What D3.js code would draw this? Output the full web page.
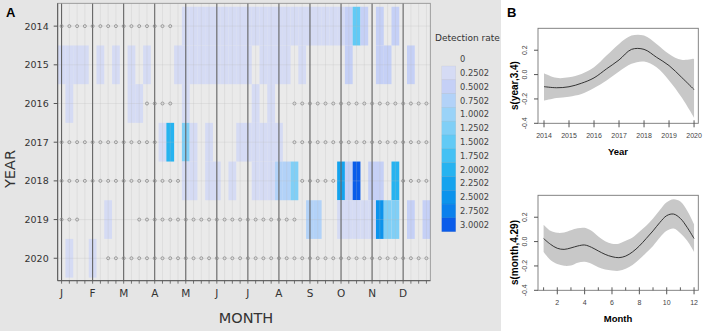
<!DOCTYPE html>
<html>
<head>
<meta charset="utf-8">
<script src="https://cdn.jsdelivr.net/npm/d3@7"></script>
<style>
    body { margin: 0; background: #fff; }
</style>
</head>
<body>
<div id="chart"></div>
<script>
// ---- data ----
const _ = null;   // week not sampled

const years = [2014, 2015, 2016, 2017, 2018, 2019, 2020];
const monthLabels = ["J", "F", "M", "A", "M", "J", "J", "A", "S", "O", "N", "D"];
const legendLabels = ["0.2502", "0.5002", "0.7502", "1.0002", "1.2502", "1.5002",
    "1.7502", "2.0002", "2.2502", "2.5002", "2.7502", "3.0002"];
const legendColors = ["#d5dbf4", "#c5d0f6", "#b2d2f8", "#9ad3f8", "#80cff6", "#62caf5",
    "#44c1f4", "#26b3f0", "#14a3ee", "#0c93ec", "#0a80ec", "#0a5cea"];

// detection rate per week (48 weeks, 4 per month); 0 = sampled, nothing detected
const row2014 = [0,0,0,0,0,0,0,0,0,0,0,0,0,0,0,_,
    .1,.1,.1,.1,.1,.1,.1,.1,.1,.1,.1,.1,.1,.1,.1,.1,.1,.1,.1,.1,.1,
    .35,1.3,.35,_,.35,_,.3,_,_,_,_];
const row2015 = [.1,.1,.1,.1,_,.1,_,.1,_,.1,_,.1,_,_,_,
    .1,.1,.1,.1,.1,.1,.1,.1,.1,.1,_,.1,.1,.1,.1,_,.1,_,_,_,_,_,
    .35,_,_,_,.35,.35,_,_,.35,_,_];
const row2016 = [_,.1,_,_,_,_,_,_,_,.1,.1,0,0,0,0,_,.1,_,_,_,_,_,_,_,_,.1,_,.1,_,_,
    0,0,0,0,0,0,0,0,0,0,0,0,0,0,0,0,0,0];
const row2017 = [0,0,0,0,0,0,0,0,0,0,0,0,0,.1,1.85,_,1.2,.1,_,.1,_,_,_,
    .1,.1,.1,.1,.1,.1,_,
    0,0,0,0,0,0,0,0,0,0,0,0,0,0,0,0,0,0];
const row2018 = [0,0,0,0,0,0,0,0,0,0,0,0,0,0,0,0,
    .1,.1,_,.1,.1,_,.1,_,_,.1,.1,.1,.6,.6,1.15,0,0,0,0,0,
    2.1,.4,2.9,_,.35,.35,_,1.9,0,0,0,0];
const row2019 = [0,0,0,_,_,_,.1,_,_,_,
    0,0,0,0,0,0,0,0,0,0,0,0,0,0,0,0,0,0,0,0,0,
    _,.55,.55,_,_,.15,.15,.15,.15,.15,2.3,1.1,1.05,_,.35,_,.35];
const row2020 = [_,.1,_,_,.1,_,
    0,0,0,0,0,0,0,0,0,0,0,0,0,0,0,0,0,0,0,0,0,0,0,0,0,0,0,0,0,0,0,0,0,0,0,0,0,0,0,0,0,0];
const weekRows = [row2014, row2015, row2016, row2017, row2018, row2019, row2020];

// GAM smooths (panel B)
const smoothYears = [2014, 2014.5, 2015, 2015.5, 2016, 2016.5, 2017, 2017.5, 2018, 2018.5, 2019, 2019.5, 2020];
const yearFit   = [-0.099, -0.108, -0.100, -0.071, -0.027, 0.047, 0.120, 0.207, 0.207, 0.142, 0.074, -0.022, -0.123];
const yearUpper = [0.011, -0.027, -0.022, 0.005, 0.060, 0.156, 0.252, 0.320, 0.320, 0.252, 0.170, 0.121, 0.129];
const yearLower = [-0.214, -0.192, -0.181, -0.159, -0.110, -0.049, 0.025, 0.088, 0.107, 0.060, -0.049, -0.187, -0.354];

const smoothMonths = [1, 1.5, 2, 2.5, 3, 3.5, 4, 4.5, 5, 5.5, 6, 6.5, 7, 7.5, 8, 8.5, 9, 9.5, 10, 10.5, 11, 11.5, 12];
const monthFit   = [0.025, -0.022, -0.055, -0.064, -0.052, -0.036, -0.028, -0.047, -0.077, -0.105, -0.124, -0.132,
    -0.119, -0.085, -0.036, 0.025, 0.088, 0.157, 0.213, 0.226, 0.190, 0.116, 0.025];
const monthUpper = [0.138, 0.088, 0.072, 0.075, 0.094, 0.110, 0.113, 0.088, 0.041, 0.003, -0.017, -0.017,
    0.006, 0.033, 0.080, 0.130, 0.190, 0.259, 0.323, 0.348, 0.329, 0.254, 0.143];
const monthLower = [-0.085, -0.152, -0.185, -0.199, -0.196, -0.174, -0.166, -0.182, -0.210, -0.229, -0.237, -0.240,
    -0.224, -0.193, -0.146, -0.091, -0.036, 0.033, 0.088, 0.107, 0.069, 0.006, -0.085];

// ---- drawing ----
let svg = d3.select("#chart").append("svg")
    .attr("width", 707)
    .attr("height", 333);

svg.append("rect").attr("width", 707).attr("height", 333).attr("fill", "#fff");
svg.append("rect").attr("width", 501).attr("height", 331).attr("fill", "#e5e5e5");

const fontA = "'DejaVu Sans', Verdana, sans-serif";
const fontB = "'Liberation Sans', Arial, sans-serif";

// panel A: heatmap
let weeks = d3.range(1, 49);
let x = d3.scaleLinear().domain([0.5, 48.5]).range([57.7, 430.3]);
let y = d3.scaleLinear().domain([2013.41, 2020.58]).range([3.3, 280.7]);
let color = d3.scaleThreshold()
    .domain(legendLabels.slice(0, 11).map(Number))
    .range(legendColors);

let plotA = svg.append("g");
plotA.append("rect")
    .attr("x", x(0.5)).attr("y", y(2013.41))
    .attr("width", x(48.5) - x(0.5)).attr("height", y(2020.58) - y(2013.41))
    .attr("fill", "#eaeaea");

let cells = [];
years.forEach((yr, i) => {
    weekRows[i].forEach((v, j) => {
        if (v !== null) cells.push({year: yr, week: j + 1, value: v});
    });
});

let cw = x(1.5) - x(0.5);
let ch = y(2014.5) - y(2013.5);

plotA.selectAll(".cell")
    .data(cells.filter(d => d.value > 0))
    .enter().append("rect")
    .attr("class", "cell")
    .attr("x", d => x(d.week - 0.5))
    .attr("y", d => y(d.year - 0.5))
    .attr("width", cw)
    .attr("height", ch)
    .attr("fill", d => color(d.value));

// faint week / year grid
plotA.selectAll(".vgrid")
    .data(weeks)
    .enter().append("line")
    .attr("x1", d => x(d)).attr("x2", d => x(d))
    .attr("y1", y(2013.41)).attr("y2", y(2020.58))
    .attr("stroke", "#b8b8b8").attr("stroke-opacity", 0.35).attr("stroke-width", 0.7);
plotA.selectAll(".hgrid")
    .data(years)
    .enter().append("line")
    .attr("x1", x(0.5)).attr("x2", x(48.5))
    .attr("y1", d => y(d)).attr("y2", d => y(d))
    .attr("stroke", "#b8b8b8").attr("stroke-opacity", 0.35).attr("stroke-width", 0.7);

// month separators
let monthWeeks = monthLabels.map((m, i) => 1 + i * 4);
plotA.selectAll(".mline")
    .data(monthWeeks)
    .enter().append("line")
    .attr("x1", d => x(d)).attr("x2", d => x(d))
    .attr("y1", y(2013.41)).attr("y2", y(2020.58))
    .attr("stroke", "#5a5a5a").attr("stroke-width", 1);

// sampled but no detection
plotA.selectAll(".dot")
    .data(cells.filter(d => d.value === 0))
    .enter().append("circle")
    .attr("cx", d => x(d.week))
    .attr("cy", d => y(d.year))
    .attr("r", 1.5)
    .attr("fill", "none")
    .attr("stroke", "#8a8a8a")
    .attr("stroke-width", 0.8);

// frame
plotA.append("rect")
    .attr("x", x(0.5)).attr("y", y(2013.41))
    .attr("width", x(48.5) - x(0.5)).attr("height", y(2020.58) - y(2013.41))
    .attr("fill", "none").attr("stroke", "#8c8c8c").attr("stroke-width", 0.8);
plotA.append("line")
    .attr("x1", x(0.5)).attr("x2", x(0.5)).attr("y1", y(2013.41)).attr("y2", y(2020.58))
    .attr("stroke", "#555");
plotA.append("line")
    .attr("x1", x(0.5)).attr("x2", x(48.5)).attr("y1", y(2020.58)).attr("y2", y(2020.58))
    .attr("stroke", "#555");

// y axis ticks and labels
plotA.selectAll(".ytick")
    .data(years)
    .enter().append("line")
    .attr("x1", x(0.5) - 4).attr("x2", x(0.5))
    .attr("y1", d => y(d)).attr("y2", d => y(d))
    .attr("stroke", "#555");
plotA.selectAll(".ylab")
    .data(years)
    .enter().append("text")
    .attr("x", x(0.5) - 9)
    .attr("y", d => y(d))
    .attr("dy", "0.36em")
    .attr("text-anchor", "end")
    .attr("font-family", fontA).attr("font-size", 9.5).attr("fill", "#333")
    .text(d => d);

// x axis: a tick per week, label per month
plotA.selectAll(".xtick")
    .data(weeks)
    .enter().append("line")
    .attr("x1", d => x(d)).attr("x2", d => x(d))
    .attr("y1", y(2020.58)).attr("y2", y(2020.58) + 3)
    .attr("stroke", "#555").attr("stroke-width", 0.8);
plotA.selectAll(".xlab")
    .data(monthLabels)
    .enter().append("text")
    .attr("x", (d, i) => x(monthWeeks[i]))
    .attr("y", 296.5)
    .attr("text-anchor", "middle")
    .attr("font-family", fontA).attr("font-size", 10.5).attr("fill", "#333")
    .text(d => d);

svg.append("text")
    .attr("x", 246).attr("y", 323)
    .attr("text-anchor", "middle")
    .attr("font-family", fontA).attr("font-size", 14.5).attr("fill", "#333")
    .text("MONTH");
svg.append("text")
    .attr("transform", "translate(15,169) rotate(-90)")
    .attr("text-anchor", "middle")
    .attr("font-family", fontA).attr("font-size", 14.5).attr("fill", "#333")
    .text("YEAR");
svg.append("text")
    .attr("x", 6).attr("y", 17)
    .attr("font-family", fontB).attr("font-size", 13).attr("font-weight", "bold")
    .text("A");

// legend
let legend = svg.append("g");
legend.append("text")
    .attr("x", 435).attr("y", 40.5)
    .attr("font-family", fontA).attr("font-size", 9).attr("fill", "#333")
    .text("Detection rate");
let ly = d3.scaleBand().domain(legendLabels).range([66, 231.7]);
legend.selectAll(".sw")
    .data(legendLabels)
    .enter().append("rect")
    .attr("x", 441.7)
    .attr("y", d => ly(d))
    .attr("width", 14)
    .attr("height", ly.bandwidth())
    .attr("fill", (d, i) => legendColors[i])
    .attr("stroke", "rgba(0,0,0,0.06)")
    .attr("stroke-width", 0.6);
legend.selectAll(".lt")
    .data(["0"].concat(legendLabels))
    .enter().append("text")
    .attr("x", 460)
    .attr("y", (d, i) => 66 + (i - 0.5) * ly.bandwidth())
    .attr("dy", "0.36em")
    .attr("font-family", fontA).attr("font-size", 8.3).attr("fill", "#444")
    .text(d => d);

// panel B: smooth terms
function smoothPanel(xs, fit, upper, lower, opt) {
    let g = svg.append("g");
    let sx = d3.scaleLinear().domain(opt.xDomain).range([538, 698.3]);
    let sy = d3.scaleLinear().domain([-0.4, 0.38]).range([opt.bottom, opt.bottom - 95]);

    g.append("path")
        .attr("d", d3.area()
            .x((d, i) => sx(xs[i]))
            .y0((d, i) => sy(lower[i]))
            .y1((d, i) => sy(upper[i]))
            .curve(d3.curveCatmullRom)(xs))
        .attr("fill", "#c8c8c8");
    g.append("path")
        .attr("d", d3.line()
            .x((d, i) => sx(xs[i]))
            .y((d, i) => sy(fit[i]))
            .curve(d3.curveCatmullRom)(xs))
        .attr("fill", "none").attr("stroke", "#222").attr("stroke-width", 0.9);

    g.append("rect")
        .attr("x", 538).attr("y", sy(0.38))
        .attr("width", 698.3 - 538).attr("height", sy(-0.4) - sy(0.38))
        .attr("fill", "none").attr("stroke", "#777").attr("stroke-width", 0.9);

    // y axis
    let yt = [-0.4, -0.2, 0.0, 0.2];
    g.selectAll(".yt").data(yt).enter().append("line")
        .attr("x1", 534).attr("x2", 538)
        .attr("y1", d => sy(d)).attr("y2", d => sy(d))
        .attr("stroke", "#555");
    g.selectAll(".yl").data(yt).enter().append("text")
        .attr("transform", d => "translate(527," + sy(d) + ") rotate(-90)")
        .attr("text-anchor", "middle")
        .attr("font-family", fontB).attr("font-size", 7).attr("fill", "#444")
        .text(d => d.toFixed(1));

    // rug (data positions)
    g.selectAll(".rug").data(opt.rug).enter().append("line")
        .attr("x1", d => sx(d)).attr("x2", d => sx(d))
        .attr("y1", sy(-0.4) - 3).attr("y2", sy(-0.4))
        .attr("stroke", "#333").attr("stroke-width", 0.8);
    // x axis
    g.selectAll(".xt").data(opt.ticks).enter().append("line")
        .attr("x1", d => sx(d)).attr("x2", d => sx(d))
        .attr("y1", sy(-0.4)).attr("y2", sy(-0.4) + 4)
        .attr("stroke", "#555");
    g.selectAll(".xl").data(opt.ticks).enter().append("text")
        .attr("x", d => sx(d)).attr("y", sy(-0.4) + 15)
        .attr("text-anchor", "middle")
        .attr("font-family", fontB).attr("font-size", 7).attr("fill", "#444")
        .text(d => d);

    g.append("text")
        .attr("x", 618).attr("y", sy(-0.4) + 32)
        .attr("text-anchor", "middle")
        .attr("font-family", fontB).attr("font-size", 9.5).attr("font-weight", "bold")
        .text(opt.xTitle);
    g.append("text")
        .attr("transform", "translate(518," + sy(-0.09) + ") rotate(-90)")
        .attr("text-anchor", "middle")
        .attr("font-family", fontB).attr("font-size", 10).attr("font-weight", "bold")
        .text(opt.yTitle);
}

smoothPanel(smoothYears, yearFit, yearUpper, yearLower, {
    xDomain: [2013.76, 2020.17], bottom: 123.3,
    ticks: [2014, 2015, 2016, 2017, 2018, 2019, 2020],
    rug: [2014, 2015, 2016, 2017, 2018, 2019, 2020],
    xTitle: "Year", yTitle: "s(year,3.4)"
});
smoothPanel(smoothMonths, monthFit, monthUpper, monthLower, {
    xDomain: [0.59, 12.31], bottom: 290.3,
    ticks: [2, 4, 6, 8, 10, 12],
    rug: [1, 2, 3, 4, 5, 6, 7, 8, 9, 10, 11, 12],
    xTitle: "Month", yTitle: "s(month,4.29)"
});

svg.append("text")
    .attr("x", 507).attr("y", 17)
    .attr("font-family", fontB).attr("font-size", 13).attr("font-weight", "bold")
    .text("B");
</script>
</body>
</html>
